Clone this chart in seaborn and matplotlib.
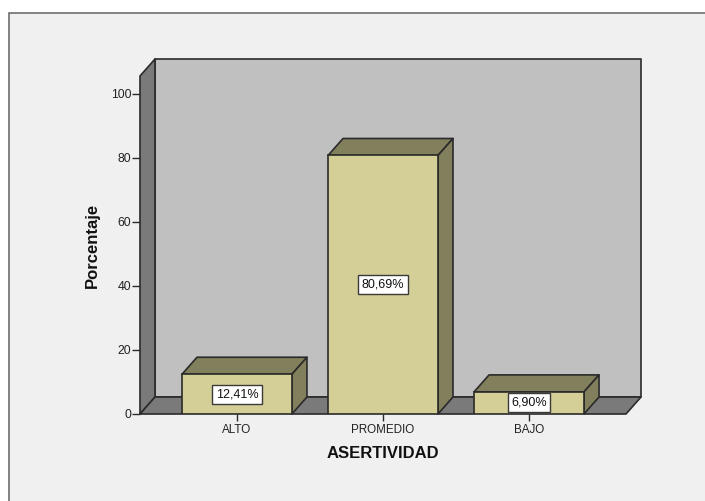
import matplotlib
matplotlib.use("Agg")
import matplotlib.pyplot as plt
from matplotlib.patches import Polygon, Rectangle
from matplotlib.ticker import FixedLocator
import pandas as pd
import seaborn as sns

categories = ["ALTO", "PROMEDIO", "BAJO"]
values = [12.41, 80.69, 6.90]
labels = ["12,41%", "80,69%", "6,90%"]
y_ticks = [0, 20, 40, 60, 80, 100]

W, H = 705, 501
sns.set_theme(style="white")
plt.rcParams["font.family"] = ["Liberation Sans", "DejaVu Sans"]

fig = plt.figure(figsize=(W / 100, H / 100), dpi=100, facecolor="white")
fig.add_artist(Rectangle((9 / W, 1 - 600 / H), 800 / W, (600 - 13) / H, transform=fig.transFigure,
                         facecolor="#f0f0f0", edgecolor="#6e6e6e", linewidth=1.2, zorder=-5))

ax = fig.add_axes([140 / W, 1 - 414 / H, (626 - 140) / W, (414 - 76) / H])
ax.patch.set_alpha(0)
df = pd.DataFrame({"cat": categories, "val": values})
sns.barplot(data=df, x="cat", y="val", order=categories, width=0.753,
            color="#d3cf97", saturation=1, edgecolor="#2a2a2a", linewidth=1.2,
            ax=ax, zorder=5)

ax.set_xlim(-0.664, 2.664)
ax.set_ylim(0, 105.5)

# 3-D depth of the chart, expressed in data units
dx = 15 / 146
dy = 17 / 3.205
x0, x1 = ax.get_xlim()
y0, y1 = ax.get_ylim()
edge = dict(edgecolor="#2a2a2a", linewidth=1.2, clip_on=False, joinstyle="round")
ax.add_patch(Polygon([(x0 + dx, y0 + dy), (x1 + dx, y0 + dy), (x1 + dx, y1 + dy), (x0 + dx, y1 + dy)],
                     facecolor="#c0c0c0", zorder=1, **edge))
ax.add_patch(Polygon([(x0, y0), (x0 + dx, y0 + dy), (x0 + dx, y1 + dy), (x0, y1)],
                     facecolor="#7a7a7a", zorder=2, **edge))
ax.add_patch(Polygon([(x0, y0), (x1, y0), (x1 + dx, y0 + dy), (x0 + dx, y0 + dy)],
                     facecolor="#7a7a7a", zorder=2, **edge))

for bar, text in zip(ax.patches[:3], labels):
    bx, bw, bh = bar.get_x(), bar.get_width(), bar.get_height()
    ax.add_patch(Polygon([(bx, bh), (bx + bw, bh), (bx + bw + dx, bh + dy), (bx + dx, bh + dy)],
                         facecolor="#827f5c", zorder=4, **edge))
    ax.add_patch(Polygon([(bx + bw, 0), (bx + bw + dx, dy), (bx + bw + dx, bh + dy), (bx + bw, bh)],
                         facecolor="#827f5c", zorder=4, **edge))
    ax.text(bx + bw / 2, bh / 2, text, ha="center", va="center", fontsize=9, color="#111111", zorder=7,
            bbox=dict(boxstyle="square,pad=0.28", facecolor="white", edgecolor="#3a3a3a", linewidth=1.0))

for s in ax.spines.values():
    s.set_visible(False)
ax.yaxis.set_major_locator(FixedLocator(y_ticks))
ax.tick_params(axis="y", which="major", length=5.8, width=1, color="#2a2a2a",
               labelsize=8.8, labelcolor="#222222", pad=0.5, left=True)
ax.tick_params(axis="x", which="major", length=5, width=1, color="#2a2a2a",
               labelsize=8.4, labelcolor="#222222", pad=2.5, bottom=True)
ax.set_xlabel("ASERTIVIDAD", fontsize=12, fontweight="bold", color="#111111", labelpad=7)
ax.set_ylabel("Porcentaje", fontsize=12, fontweight="bold", color="#111111", labelpad=8)

fig.savefig("out.png", dpi=100, facecolor=fig.get_facecolor())
